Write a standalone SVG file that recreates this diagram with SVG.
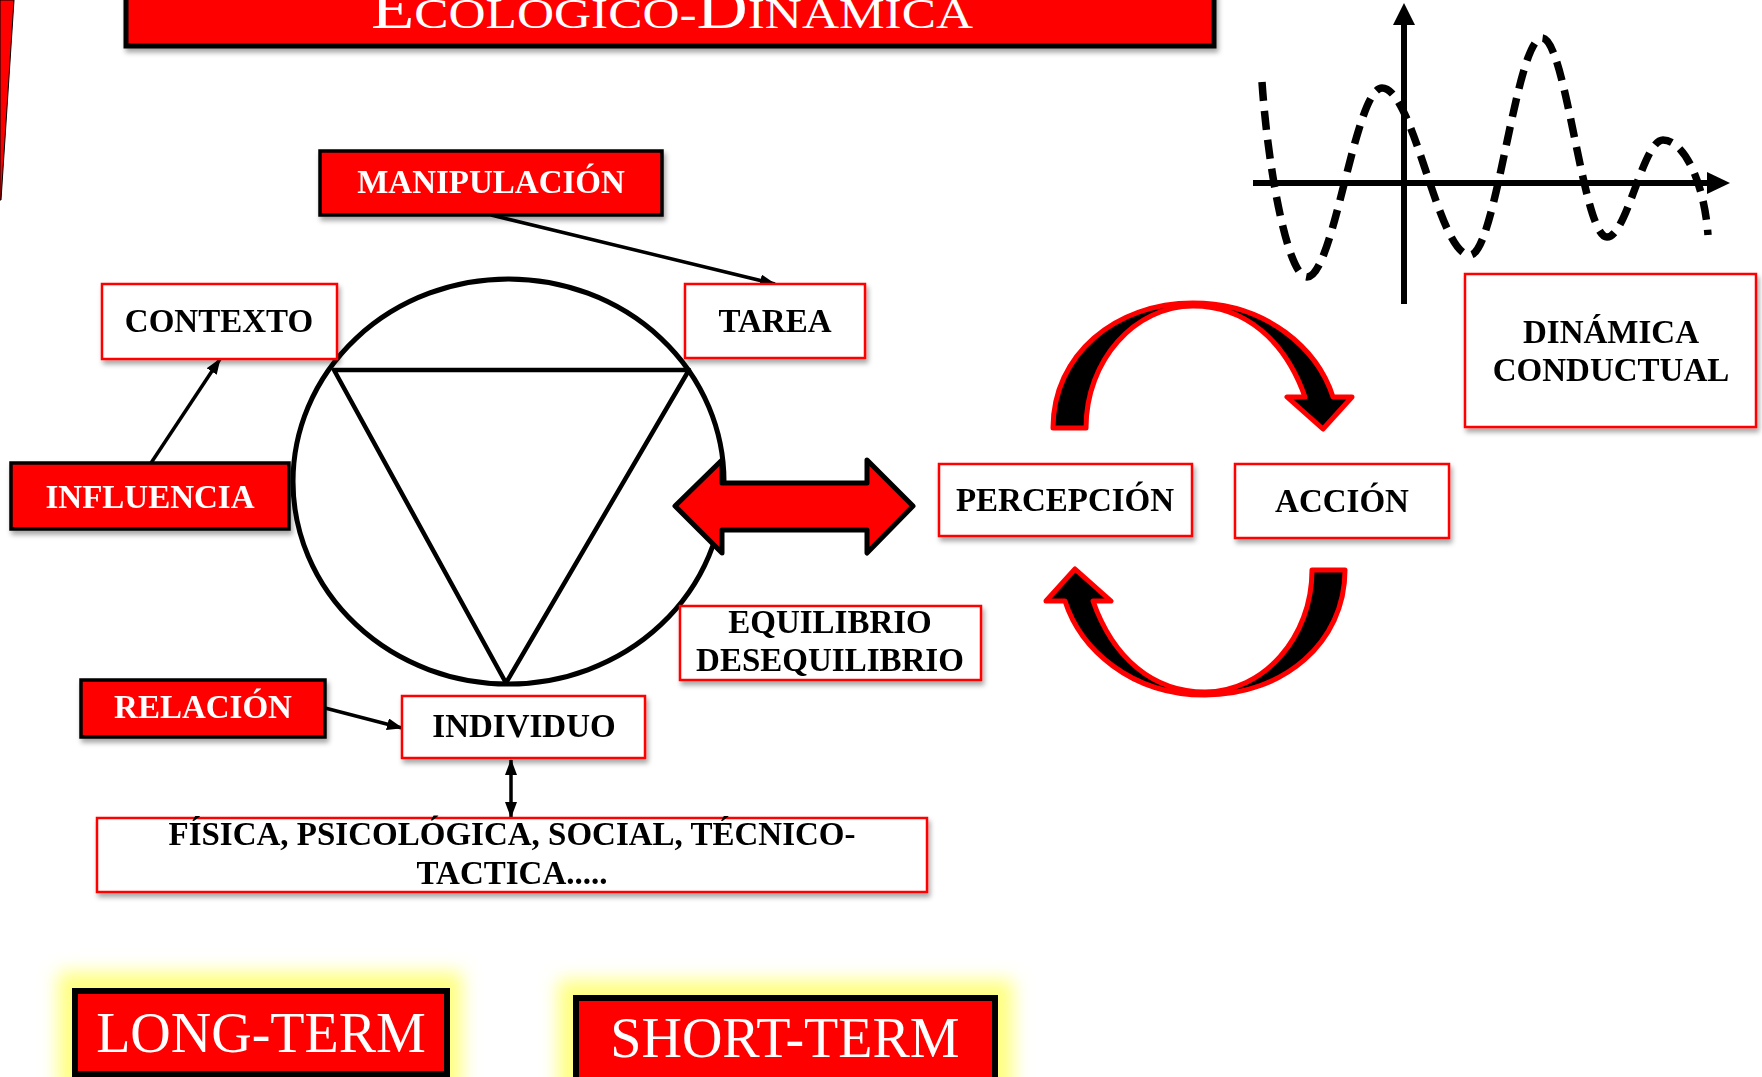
<svg xmlns="http://www.w3.org/2000/svg" width="1762" height="1077" viewBox="0 0 1762 1077">
<defs>
<style>
.lbl{font-family:'Liberation Serif','DejaVu Serif',serif;font-weight:bold;font-size:33px;text-anchor:middle;fill:#000}
.wl{fill:#fff}
.wbox{fill:#fff;stroke:#ff0000;stroke-width:2.5}
.rbox{fill:#ff0000;stroke:#000;stroke-width:3.5}
.big{font-family:'Liberation Serif','DejaVu Serif',serif;font-size:56px;text-anchor:middle;fill:#fff}
.conn{stroke:#000;stroke-width:3.5;fill:none}
.curl{fill:#000;stroke:#ff0000;stroke-width:5;stroke-linejoin:round}
</style>
<filter id="sh" x="-10%" y="-10%" width="130%" height="140%">
<feDropShadow dx="2" dy="4" stdDeviation="2.5" flood-color="#000" flood-opacity="0.35"/>
</filter>
<filter id="glow" x="-30%" y="-30%" width="160%" height="160%">
<feGaussianBlur stdDeviation="9"/>
</filter>
<marker id="ah" viewBox="0 0 16 12" refX="15" refY="6" markerWidth="16" markerHeight="12" markerUnits="userSpaceOnUse" orient="auto-start-reverse">
<path d="M0,0 L16,6 L0,12 z" fill="#000"/>
</marker>
</defs>

<!-- left edge decoration -->
<polygon points="0,0 14,0 1,200 0,200" fill="#ff0000" stroke="#000" stroke-width="1"/>

<!-- title -->
<g id="title">
<rect x="126" y="-20" width="1088" height="66" fill="#ff0000" stroke="#000" stroke-width="5" filter="url(#sh)"/>
<text x="672" y="28" font-family="'Liberation Serif','DejaVu Serif',serif" fill="#fff" text-anchor="middle" textLength="602" lengthAdjust="spacingAndGlyphs"><tspan font-size="58">E</tspan><tspan font-size="42">COLOGICO-</tspan><tspan font-size="58">D</tspan><tspan font-size="42">INAMICA</tspan></text>
</g>

<!-- graph -->
<g id="graph">
<line x1="1404" y1="304" x2="1404" y2="20" stroke="#000" stroke-width="6"/>
<polygon points="1404,3 1393,25 1415,25" fill="#000"/>
<line x1="1253" y1="183" x2="1712" y2="183" stroke="#000" stroke-width="6"/>
<polygon points="1730,183 1707,172 1707,194" fill="#000"/>
<path d="M1262,82 C1268,170 1288,277 1307,277 C1334,277 1355,88 1382,88 C1414,88 1438,255 1470,255 C1496,255 1516,38 1542,38 C1566,38 1583,237 1607,237 C1627,237 1643,140 1663,140 C1683,140 1704,180 1708,235" fill="none" stroke="#000" stroke-width="7.5" stroke-dasharray="19 10"/>
</g>

<!-- connectors -->
<g id="connectors">
<line class="conn" x1="491" y1="215" x2="775" y2="284" marker-end="url(#ah)"/>
<line class="conn" x1="151" y1="463" x2="220" y2="359" marker-end="url(#ah)"/>
<line class="conn" x1="325" y1="708" x2="402" y2="728" marker-end="url(#ah)"/>
<line class="conn" x1="511" y1="760" x2="511" y2="817" marker-start="url(#ah)" marker-end="url(#ah)"/>
</g>

<!-- circle and triangle -->
<g id="circle">
<ellipse cx="508.5" cy="481.5" rx="215.5" ry="202.5" fill="none" stroke="#000" stroke-width="5"/>
<polygon points="334,370 689,370 506,683" fill="none" stroke="#000" stroke-width="4.5" stroke-linejoin="round"/>
</g>

<!-- double red arrow -->
<g id="double-arrow">
<polygon points="675,506 722,460 722,483 867,483 867,460 913,506 867,553 867,530 722,530 722,553" fill="#ff0000" stroke="#000" stroke-width="5" stroke-linejoin="round"/>
</g>

<!-- nodes -->
<g id="manipulacion" filter="url(#sh)">
<rect class="rbox" x="320" y="151" width="342" height="64"/>
<text class="lbl wl" x="491" y="193">MANIPULACIÓN</text>
</g>
<g id="contexto" filter="url(#sh)">
<rect class="wbox" x="102" y="284" width="235" height="75"/>
<text class="lbl" x="219" y="332">CONTEXTO</text>
</g>
<g id="tarea" filter="url(#sh)">
<rect class="wbox" x="685" y="284" width="180" height="74"/>
<text class="lbl" x="775" y="332">TAREA</text>
</g>
<g id="influencia" filter="url(#sh)">
<rect class="rbox" x="11" y="463" width="278" height="66"/>
<text class="lbl wl" x="150" y="508">INFLUENCIA</text>
</g>
<g id="equilibrio" filter="url(#sh)">
<rect class="wbox" x="680" y="606" width="301" height="74"/>
<text class="lbl" x="830" y="633">EQUILIBRIO</text>
<text class="lbl" x="830" y="671">DESEQUILIBRIO</text>
</g>
<g id="relacion" filter="url(#sh)">
<rect class="rbox" x="81" y="680" width="244" height="57"/>
<text class="lbl wl" x="203" y="718">RELACIÓN</text>
</g>
<g id="individuo" filter="url(#sh)">
<rect class="wbox" x="402" y="696" width="243" height="62"/>
<text class="lbl" x="524" y="737">INDIVIDUO</text>
</g>
<g id="fisica" filter="url(#sh)">
<rect class="wbox" x="97" y="818" width="830" height="74"/>
<text class="lbl" x="512" y="845">FÍSICA, PSICOLÓGICA, SOCIAL, TÉCNICO-</text>
<text class="lbl" x="512" y="884">TACTICA.....</text>
</g>
<g id="percepcion" filter="url(#sh)">
<rect class="wbox" x="939" y="464" width="253" height="72"/>
<text class="lbl" x="1065" y="511">PERCEPCIÓN</text>
</g>
<g id="accion" filter="url(#sh)">
<rect class="wbox" x="1235" y="464" width="214" height="74"/>
<text class="lbl" x="1342" y="512">ACCIÓN</text>
</g>
<g id="dinamica" filter="url(#sh)">
<rect class="wbox" x="1465" y="274" width="291" height="153"/>
<text class="lbl" x="1611" y="343">DINÁMICA</text>
<text class="lbl" x="1611" y="381">CONDUCTUAL</text>
</g>

<!-- curved arrows -->
<g id="curved-arrows">
<path class="curl" d="M1053,428 C1053,355 1115,303 1193,303 C1268,303 1318,350 1333,397 L1352,397 L1323,429 L1287,397 L1305,397 C1285,340 1245,306 1193,306 C1135,306 1086,360 1086,428 Z"/>
<path class="curl" transform="rotate(180 1199 499)" d="M1053,428 C1053,355 1115,303 1193,303 C1268,303 1318,350 1333,397 L1352,397 L1323,429 L1287,397 L1305,397 C1285,340 1245,306 1193,306 C1135,306 1086,360 1086,428 Z"/>
</g>

<!-- long / short term -->
<g id="long-term">
<rect x="58" y="972" width="404" height="120" fill="#ffff80" filter="url(#glow)"/>
<rect x="75" y="991" width="372" height="83" fill="#ff0000" stroke="#000" stroke-width="6"/>
<text class="big" x="261" y="1052">LONG-TERM</text>
</g>
<g id="short-term">
<rect x="558" y="980" width="455" height="120" fill="#ffff80" filter="url(#glow)"/>
<rect x="576" y="998" width="419" height="90" fill="#ff0000" stroke="#000" stroke-width="6"/>
<text class="big" x="785" y="1057">SHORT-TERM</text>
</g>
</svg>
